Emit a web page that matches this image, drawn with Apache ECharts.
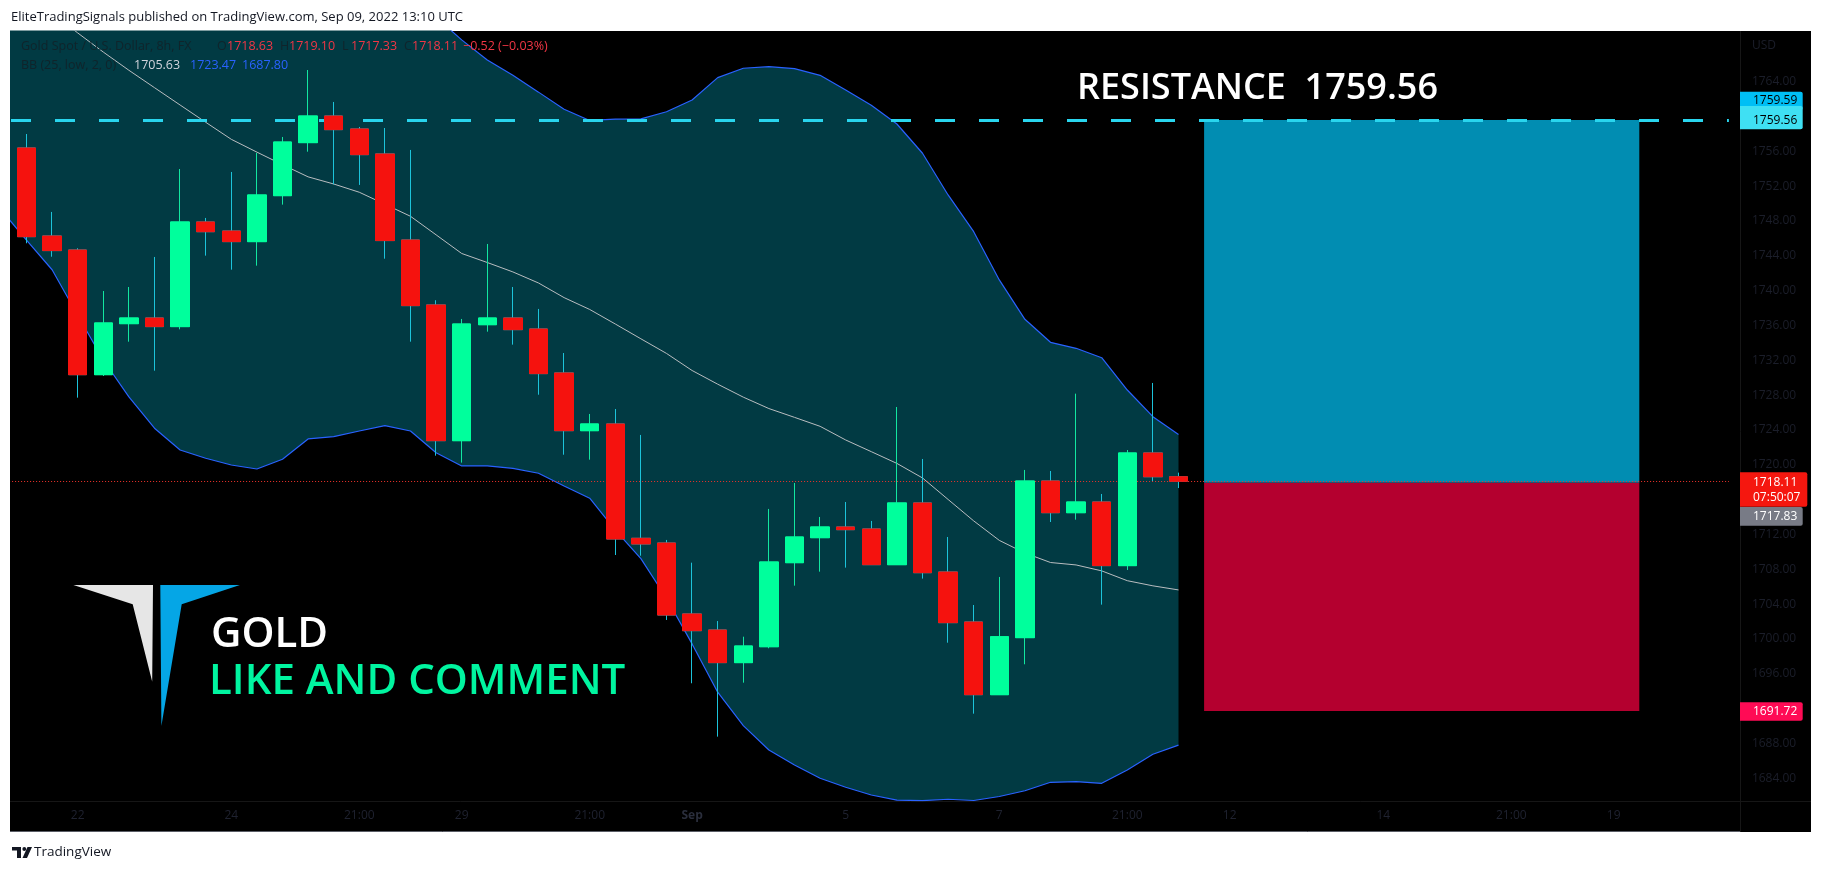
<!DOCTYPE html>
<html><head><meta charset="utf-8">
<script src="https://cdn.jsdelivr.net/npm/echarts@6.0.0/dist/echarts.min.js"></script>
<style>
html,body{margin:0;padding:0;background:#ffffff;width:1823px;height:872px;overflow:hidden;}
#chart{position:absolute;left:10px;top:0;width:1813px;height:872px;}
</style></head><body><div id="chart"></div>
<script>
// ---------------- data ----------------
const categories = [
 'Aug 19 05:00','Aug 19 13:00','Aug 19 21:00',
 'Aug 22 05:00','Aug 22 13:00','Aug 22 21:00',
 'Aug 23 05:00','Aug 23 13:00','Aug 23 21:00',
 'Aug 24 05:00','Aug 24 13:00','Aug 24 21:00',
 'Aug 25 05:00','Aug 25 13:00','Aug 25 21:00',
 'Aug 26 05:00','Aug 26 13:00','Aug 26 21:00',
 'Aug 29 05:00','Aug 29 13:00','Aug 29 21:00',
 'Aug 30 05:00','Aug 30 13:00','Aug 30 21:00',
 'Aug 31 05:00','Aug 31 13:00','Aug 31 21:00',
 'Sep 01 05:00','Sep 01 13:00','Sep 01 21:00',
 'Sep 02 05:00','Sep 02 13:00','Sep 02 21:00',
 'Sep 05 05:00','Sep 05 13:00','Sep 05 21:00',
 'Sep 06 05:00','Sep 06 13:00','Sep 06 21:00',
 'Sep 07 05:00','Sep 07 13:00','Sep 07 21:00',
 'Sep 08 05:00','Sep 08 13:00','Sep 08 21:00',
 'Sep 09 05:00','Sep 09 13:00','Sep 09 21:00',
 'Sep 12 05:00','Sep 12 13:00','Sep 12 21:00',
 'Sep 13 05:00','Sep 13 13:00','Sep 13 21:00',
 'Sep 14 05:00','Sep 14 13:00','Sep 14 21:00',
 'Sep 15 05:00','Sep 15 13:00','Sep 15 21:00',
 'Sep 16 05:00','Sep 16 13:00','Sep 16 21:00',
 'Sep 19 05:00','Sep 19 13:00','Sep 19 21:00',
 'Sep 20 05:00','Sep 20 13:00'
];
// candles start at 'Aug 19 13:00'
const candleStart = 'Aug 19 13:00';
const opens  = [1756.39,1746.28,1744.67,1730.35,1736.21,1736.86,1735.87,1747.89,1746.85,1745.63,1750.91,1757.00,1760.06,1758.57,1755.70,1745.82,1738.36,1722.77,1736.09,1736.86,1735.60,1730.55,1723.92,1724.69,1711.56,1711.02,1702.87,1701.03,1697.28,1699.11,1708.76,1711.63,1712.86,1712.63,1708.53,1715.62,1707.69,1701.95,1693.60,1700.15,1718.14,1714.50,1715.73,1708.42,1721.36,1718.63];
const closes = [1746.20,1744.60,1730.35,1736.29,1736.86,1735.87,1747.89,1746.77,1745.63,1750.99,1757.07,1760.06,1758.49,1755.62,1745.75,1738.28,1722.77,1736.17,1736.86,1735.52,1730.47,1723.92,1724.69,1711.48,1710.91,1702.75,1700.95,1697.28,1699.19,1708.84,1711.71,1712.86,1712.55,1708.53,1715.62,1707.61,1701.87,1693.60,1700.26,1718.14,1714.50,1715.73,1708.42,1721.36,1718.63,1718.11];
const lows   = [1745.44,1743.90,1727.71,1730.20,1734.14,1730.81,1735.56,1744.02,1742.41,1742.87,1749.88,1755.96,1752.21,1752.14,1743.67,1734.14,1721.05,1720.25,1735.29,1733.80,1728.05,1721.16,1720.59,1709.64,1709.56,1702.18,1694.91,1688.78,1694.98,1698.93,1706.12,1707.73,1708.19,1708.50,1708.50,1706.93,1699.57,1691.42,1693.56,1697.09,1713.43,1713.70,1703.94,1707.92,1718.07,1717.33];
const highs  = [1757.99,1749.04,1744.87,1739.96,1740.42,1743.87,1753.97,1748.35,1753.63,1755.81,1757.65,1765.34,1761.67,1758.80,1758.68,1756.16,1738.90,1736.75,1745.36,1740.42,1737.90,1732.84,1725.84,1726.41,1723.43,1711.37,1708.76,1702.06,1700.26,1714.93,1717.91,1714.01,1715.73,1713.55,1726.64,1720.67,1711.71,1703.90,1707.12,1719.41,1719.29,1728.17,1716.65,1721.70,1729.40,1719.10];
// Bollinger bands, from 'Aug 19 05:00'
const bbUpper = [1803.5,1802.4,1801.4,1802.0,1802.8,1802.8,1802.4,1800.9,1797.9,1794.8,1792.3,1788.3,1783.2,1781.3,1778.7,1775.4,1773.2,1771.4,1768.8,1766.5,1764.75,1762.8,1760.83,1759.55,1759.7,1759.72,1760.55,1761.90,1764.46,1765.54,1765.72,1765.49,1764.73,1763.05,1761.29,1759.14,1755.78,1750.99,1746.77,1741.23,1736.71,1734.07,1733.38,1732.30,1728.59,1725.53,1723.47];
const bbBasis = [1776.4,1774.1,1771.9,1769.6,1767.4,1765.31,1763.31,1761.32,1759.34,1757.38,1755.91,1754.47,1753.07,1752.25,1751.30,1749.93,1748.54,1746.41,1744.27,1743.23,1742.15,1740.88,1739.20,1737.84,1736.17,1734.47,1732.79,1730.83,1729.26,1727.77,1726.46,1725.45,1724.42,1722.85,1721.51,1720.16,1718.49,1716.02,1713.56,1711.32,1709.87,1708.78,1708.50,1707.82,1706.69,1706.10,1705.63];
const bbLower = [1749.31,1745.8,1742.4,1737.17,1732.04,1727.8,1724.2,1721.7,1720.75,1719.98,1719.52,1720.64,1722.97,1723.23,1723.88,1724.49,1723.88,1721.39,1719.87,1719.87,1719.60,1719.03,1717.57,1716.16,1712.49,1709.22,1704.68,1699.43,1693.89,1690.04,1687.25,1685.53,1684.0,1682.97,1682.08,1681.5,1681.43,1681.59,1681.45,1681.91,1682.57,1683.54,1683.61,1683.42,1684.95,1686.76,1687.80];
const priceTicks = [1684,1688,1692,1696,1700,1704,1708,1712,1716,1720,1724,1728,1732,1736,1740,1744,1748,1752,1756,1760,1764];
const timeTickLabels = {
 'Aug 22 05:00':'22','Aug 24 05:00':'24','Aug 25 21:00':'21:00','Aug 29 05:00':'29',
 'Aug 30 21:00':'21:00','Sep 01 05:00':'Sep','Sep 05 05:00':'5','Sep 07 05:00':'7',
 'Sep 08 21:00':'21:00','Sep 12 05:00':'12','Sep 14 05:00':'14','Sep 15 21:00':'21:00','Sep 19 05:00':'19'
};
const resistance = 1759.56;
const targetPrice = 1759.59;
const entryPrice = 1717.95;
const stopPrice = 1691.72;
const bidPrice = 1717.83;
const positionFrom = 'Sep 09 21:00';
const positionTo = 'Sep 19 13:00';
const countdown = '07:50:07';

// ---------------- build ----------------
const last = opens.length - 1;
const lastPrice = closes[last];
const startIdx = categories.indexOf(candleStart);
const wickData = opens.map((o, i) => [startIdx + i, o, closes[i], lows[i], highs[i]]);
const bodyData = opens.map((o, i) => [startIdx + i, o, closes[i], Math.min(o, closes[i]), Math.max(o, closes[i])]);
const bbSpan = bbUpper.map((u, i) => +(u - bbLower[i]).toFixed(2));

const FONT = '"Open Sans", "Liberation Sans", sans-serif';
const DARK = '#10242b';
const RED = '#f23645';
const fmt = v => v.toFixed(2);
const minus = s => s.replace('-', '\u2212');
const chg = closes[last] - closes[last - 1];
const chgPct = chg / closes[last - 1] * 100;

function txt(id, text, x, y, fill, size, extra) {
  return Object.assign({type:'text', id, x, y, z:100, silent:true,
    style: Object.assign({text, fill, fontSize:size, fontFamily:FONT, align:'left', verticalAlign:'middle'}, (extra||{}))});
}

const baseGraphics = [
  {type:'rect', id:'bg', shape:{x:0, y:31, width:1801, height:801}, style:{fill:'#000000'}, z:-100, silent:true},
  {type:'line', id:'sepV', shape:{x1:1730.5, y1:31, x2:1730.5, y2:832}, style:{stroke:'#161616', lineWidth:1}, z:-90, silent:true},
  {type:'line', id:'sepH', shape:{x1:0, y1:801.5, x2:1801, y2:801.5}, style:{stroke:'#161616', lineWidth:1}, z:-90, silent:true},
  {type:'line', id:'sepB', shape:{x1:0, y1:831.5, x2:1730, y2:831.5}, style:{stroke:'#5a5d66', lineWidth:1}, z:-90, silent:true},
  txt('hdr', 'EliteTradingSignals published on TradingView.com, Sep 09, 2022 13:10 UTC', 1, 17, '#131722', 13),
  txt('usd', 'USD', 1742, 46, '#1b1e2a', 12),
  // legend line 1
  txt('lg1', 'Gold Spot / U.S. Dollar, 8h, FX', 11, 46.5, DARK, 12.5),
  txt('lgO', 'O', 207, 46.5, DARK, 12.5),
  txt('lgOv', fmt(opens[last]), 217, 46.5, RED, 12.5),
  txt('lgH', 'H', 270, 46.5, DARK, 12.5),
  txt('lgHv', fmt(highs[last]), 279, 46.5, RED, 12.5),
  txt('lgL', 'L', 332, 46.5, DARK, 12.5),
  txt('lgLv', fmt(lows[last]), 341, 46.5, RED, 12.5),
  txt('lgC', 'C', 394, 46.5, DARK, 12.5),
  txt('lgCv', fmt(closes[last]), 402, 46.5, RED, 12.5),
  txt('lgChg', minus(fmt(chg)) + ' (' + minus(fmt(chgPct)) + '%)', 453, 46.5, RED, 12.5),
  // legend line 2
  txt('lg2', 'BB (25, low, 2, 0)', 11, 65, DARK, 12.5),
  txt('lgB', fmt(bbBasis[bbBasis.length-1]), 124, 65, '#d1d4dc', 12.5),
  txt('lgU', fmt(bbUpper[bbUpper.length-1]), 180, 65, '#2962ff', 12.5),
  txt('lgLo', fmt(bbLower[bbLower.length-1]), 232, 65, '#2962ff', 12.5),
  // annotations
  txt('res', 'RESISTANCE  ' + fmt(resistance), 1067, 89, '#ffffff', 36, {fontWeight:600}),
  txt('gold', 'GOLD', 201, 634.8, '#ffffff', 42, {fontWeight:600}),
  txt('like', 'LIKE AND COMMENT', 199, 682.2, '#00f5a0', 42, {fontWeight:600}),
  // logo
  {type:'polygon', id:'logoW', shape:{points:[[63.4,585],[143,585],[142.2,681.7],[122.7,604.3]]}, style:{fill:'#e6e6e6'}, z:100, silent:true},
  {type:'polygon', id:'logoB', shape:{points:[[150.3,585],[229.9,585],[171.7,604.3],[151.4,726]]}, style:{fill:'#05a6e6'}, z:100, silent:true},
  // footer
  {type:'polygon', id:'tv1', shape:{points:[[2,847],[11,847],[11,858],[7,858],[7,850.5],[2,850.5]]}, style:{fill:'#131722'}, z:100, silent:true},
  {type:'circle', id:'tv2', shape:{cx:14.3, cy:849, r:1.9}, style:{fill:'#131722'}, z:100, silent:true},
  {type:'polygon', id:'tv3', shape:{points:[[17.5,847],[22,847],[17,858],[12.5,858]]}, style:{fill:'#131722'}, z:100, silent:true},
  txt('tvtxt', 'TradingView', 24, 852.5, '#131722', 13.5)
];

const chart = echarts.init(document.getElementById('chart'));
const option = {
  animation: false,
  backgroundColor: 'transparent',
  grid: {left: -21.9, right: 94.1, top: 31, bottom: 71, containLabel: false, outerBoundsMode: 'none'},
  xAxis: {
    type: 'category', data: categories, boundaryGap: true,
    axisLine: {show: false}, axisTick: {show: false}, splitLine: {show: false},
    axisLabel: {
      interval: (i, v) => timeTickLabels[v] !== undefined,
      formatter: v => { const t = timeTickLabels[v] || ''; return t === 'Sep' ? '{b|Sep}' : t; },
      color: '#1f2230', fontSize: 12, fontFamily: FONT, margin: 9, hideOverlap: false,
      rich: {b: {fontWeight: 'bold', color: '#2a2e3c', fontSize: 12, fontFamily: FONT}}
    }
  },
  yAxis: {
    type: 'value', position: 'right', min: 1681.39, max: 1769.82, scale: true,
    axisLine: {show: false}, axisTick: {show: false}, splitLine: {show: false},
    axisLabel: {customValues: priceTicks, formatter: v => v.toFixed(2), color: '#1b1e2a', fontSize: 12, fontFamily: FONT, margin: 23, align: 'left'}
  },
  series: [
    {name: 'BB Lower', type: 'line', data: bbLower, stack: 'bb', symbol: 'none', silent: true,
     lineStyle: {color: '#2962ff', width: 1.2}, z: 3},
    {name: 'BB Band', type: 'line', data: bbSpan, stack: 'bb', symbol: 'none', silent: true,
     lineStyle: {color: '#2962ff', width: 1.2}, areaStyle: {color: '#013a43', opacity: 1}, z: 2},
    {name: 'BB Basis', type: 'line', data: bbBasis, symbol: 'none', silent: true,
     lineStyle: {color: '#b9bdc0', width: 1}, z: 3},
    {name: 'Wicks', type: 'candlestick', data: wickData, encode: {x: 0, y: [1, 2, 3, 4]}, barWidth: 19, silent: true,
     itemStyle: {color: 'rgba(0,0,0,0)', color0: 'rgba(0,0,0,0)', borderColor: '#12e6a0', borderColor0: '#1cc3da', borderWidth: 1}, z: 4},
    {name: 'Bodies', type: 'candlestick', data: bodyData, encode: {x: 0, y: [1, 2, 3, 4]}, barWidth: 19, silent: true,
     itemStyle: {color: '#00ff9c', color0: '#f5120e', borderColor: '#00ff9c', borderColor0: '#f5120e', borderWidth: 1}, z: 5,
     markArea: {silent: true, data: [
       [{xAxis: positionFrom, yAxis: targetPrice, itemStyle: {color: '#018db2', opacity: 1}}, {xAxis: positionTo, yAxis: entryPrice}],
       [{xAxis: positionFrom, yAxis: entryPrice, itemStyle: {color: '#b4002f', opacity: 1}}, {xAxis: positionTo, yAxis: stopPrice}]
     ]},
     markLine: {silent: true, symbol: ['none', 'none'], label: {show: false}, animation: false, data: [
       {yAxis: resistance, lineStyle: {color: '#29d5ee', width: 3, type: [20, 24], dashOffset: 21.1, opacity: 1}},
       {yAxis: lastPrice, lineStyle: {color: '#f0322a', width: 1, type: [1, 2], opacity: 1}}
     ]}
    }
  ],
  graphic: baseGraphics
};
chart.setOption(option);

// price tags on the right scale
const py = v => chart.convertToPixel({yAxisIndex: 0}, v);
const tagDefs = [
  {v: targetPrice, lines: [fmt(targetPrice)], fill: '#00bff5', color: '#000000', top: -28.4, h: 18.3, w: 62.7},
  {v: resistance, lines: [fmt(resistance)], fill: '#3fe0f3', color: '#000000', top: -14.4, h: 23.3, w: 62.7, textDy: 0.6},
  {v: lastPrice, lines: [fmt(lastPrice), countdown], fill: '#f5170f', color: '#ffffff', top: -9, h: 34.4, w: 67.3, textDy: 1},
  {v: bidPrice, lines: [fmt(bidPrice)], fill: '#787b86', color: '#ffffff', top: 23.3, h: 18.7, w: 62.7},
  {v: stopPrice, lines: [fmt(stopPrice)], fill: '#ff0b55', color: '#ffffff', top: -8.8, h: 18.4, w: 62.7}
];
const tagGraphics = [];
tagDefs.forEach((t, k) => {
  const y = py(t.v);
  const top = y + t.top;
  tagGraphics.push({type: 'rect', id: 'tagr' + k, shape: {x: 1730, y: top, width: t.w, height: t.h, r: [0, 2, 2, 0]},
    style: {fill: t.fill}, z: 110, silent: true});
  t.lines.forEach((ln, j) => {
    const cy = t.lines.length === 1 ? (t.textDy !== undefined ? y + t.textDy : top + t.h / 2) : y + (t.textDy || 0) + j * 15;
    tagGraphics.push(txt('tagt' + k + '_' + j, ln, 1743, cy, t.color, 12));
    tagGraphics[tagGraphics.length - 1].z = 111;
  });
});
chart.setOption({graphic: baseGraphics.concat(tagGraphics)});
</script></body></html>
